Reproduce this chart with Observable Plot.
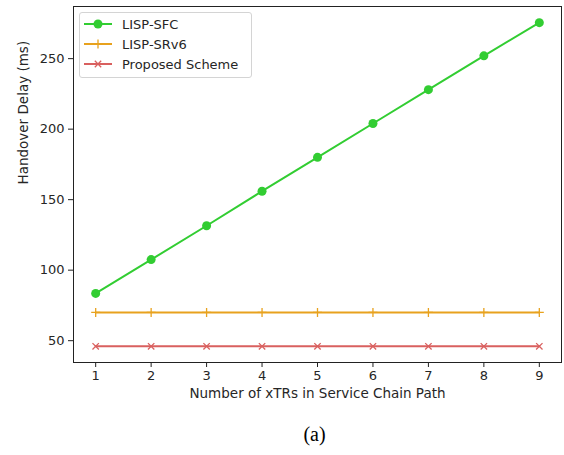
<!DOCTYPE html>
<html>
<head>
<meta charset="utf-8">
<script src="https://cdn.jsdelivr.net/npm/d3@7"></script>
<script src="https://cdn.jsdelivr.net/npm/@observablehq/plot@0.6"></script>
<style>
  html, body { margin: 0; padding: 0; background: #fff; }
  #wrap { position: relative; width: 564px; height: 455px; }
  #legend {
    position: absolute; left: 79px; top: 12px; width: 171px; height: 64px;
    border: 1px solid #d4d4d4; border-radius: 3px; background: rgba(255,255,255,0.85);
    font-family: "DejaVu Sans", sans-serif; font-size: 13px; color: #262626;
  }
  .row { position: absolute; left: 0; height: 20px; display: flex; align-items: center; }
  .row svg { margin-left: 4px; }
  .row span { margin-left: 10px; }
</style>
</head>
<body>
<div id="wrap"><div id="chart"></div><div id="legend"></div></div>
<script>
const xs = [1, 2, 3, 4, 5, 6, 7, 8, 9];
const sfc = [83.5, 107.5, 131.5, 156, 180, 204, 228, 252, 275.5];
const srv6 = [70, 70, 70, 70, 70, 70, 70, 70, 70];
const proposed = [46, 46, 46, 46, 46, 46, 46, 46, 46];
const seriesNames = ["LISP-SFC", "LISP-SRv6", "Proposed Scheme"];
const seriesColors = ["#32CD32", "#E8A21E", "#D9605F"];
const seriesSymbols = ["circle", "plus", "times"];
const xTicks = [1, 2, 3, 4, 5, 6, 7, 8, 9];
const yTicks = [50, 100, 150, 200, 250];
const xLabel = "Number of xTRs in Service Chain Path";
const yLabel = "Handover Delay (ms)";
const caption = "(a)";

const valuesBySeries = [sfc, srv6, proposed];
const data = valuesBySeries.flatMap((vals, i) =>
  xs.map((x, j) => ({x, y: vals[j], series: seriesNames[i]})));

const all = valuesBySeries.flat();
const yMin = d3.min(all), yMax = d3.max(all);
const yPad = (yMax - yMin) * 0.05;
const xPad = (d3.max(xs) - d3.min(xs)) * 0.05;

const marks = [];
valuesBySeries.forEach((vals, i) => {
  const d = data.filter(r => r.series === seriesNames[i]);
  marks.push(Plot.line(d, {x: "x", y: "y", stroke: seriesColors[i], strokeWidth: 2}));
  if (seriesSymbols[i] === "circle") {
    marks.push(Plot.dot(d, {x: "x", y: "y", fill: seriesColors[i], r: 4.5, symbol: "circle"}));
  } else {
    marks.push(Plot.dot(d, {x: "x", y: "y", stroke: seriesColors[i], r: 3, strokeWidth: 1.3, symbol: seriesSymbols[i]}));
  }
});

const chart = Plot.plot({
  width: 564,
  height: 455,
  marginLeft: 73,
  marginRight: 3,
  marginTop: 6,
  marginBottom: 93,
  style: {fontFamily: "DejaVu Sans, sans-serif", fontSize: "13px", color: "#262626", background: "#fff"},
  x: {domain: [d3.min(xs) - xPad, d3.max(xs) + xPad]},
  y: {domain: [yMin - yPad, yMax + yPad]},
  marks: [
    ...marks,
    Plot.frame({stroke: "#222", strokeWidth: 1}),
    Plot.axisX(xTicks, {tickSize: 5, tickPadding: 3, fontSize: 13, label: null, stroke: "#222", fill: "#262626"}),
    Plot.axisY(yTicks, {tickSize: 5, tickPadding: 4, fontSize: 13, label: null, stroke: "#222", fill: "#262626"}),
    Plot.text([xLabel], {text: d => d, frameAnchor: "bottom", dy: 35, fontSize: 13.5, fill: "#262626"}),
    Plot.text([yLabel], {text: d => d, frameAnchor: "left", dx: -50, rotate: -90, fontSize: 13.5, fill: "#262626"}),
    Plot.text([caption], {text: d => d, frameAnchor: "bottom", dy: 78, dx: -3, fontSize: 20, fontFamily: "Liberation Serif, serif", fill: "#000"})
  ]
});
document.getElementById("chart").appendChild(chart);

const legend = document.getElementById("legend");
seriesNames.forEach((name, i) => {
  const row = document.createElement("div");
  row.className = "row";
  row.style.top = (i * 20 + 1) + "px";
  const ns = "http://www.w3.org/2000/svg";
  const s = document.createElementNS(ns, "svg");
  s.setAttribute("width", 28); s.setAttribute("height", 14);
  const ln = document.createElementNS(ns, "line");
  ln.setAttribute("x1", 0); ln.setAttribute("x2", 28); ln.setAttribute("y1", 7); ln.setAttribute("y2", 7);
  ln.setAttribute("stroke", seriesColors[i]); ln.setAttribute("stroke-width", 2);
  s.appendChild(ln);
  const p = document.createElementNS(ns, "path");
  const sym = {circle: d3.symbolCircle, plus: d3.symbolPlus, times: d3.symbolTimes}[seriesSymbols[i]];
  p.setAttribute("d", d3.symbol(sym, seriesSymbols[i] === "circle" ? Math.PI * 4.5 * 4.5 : Math.PI * 9)());
  p.setAttribute("transform", "translate(14,7)");
  if (seriesSymbols[i] === "circle") p.setAttribute("fill", seriesColors[i]);
  else { p.setAttribute("fill", "none"); p.setAttribute("stroke", seriesColors[i]); p.setAttribute("stroke-width", 1.3); }
  s.appendChild(p);
  row.appendChild(s);
  const t = document.createElement("span");
  t.textContent = name;
  row.appendChild(t);
  legend.appendChild(row);
});
</script>
</body>
</html>
